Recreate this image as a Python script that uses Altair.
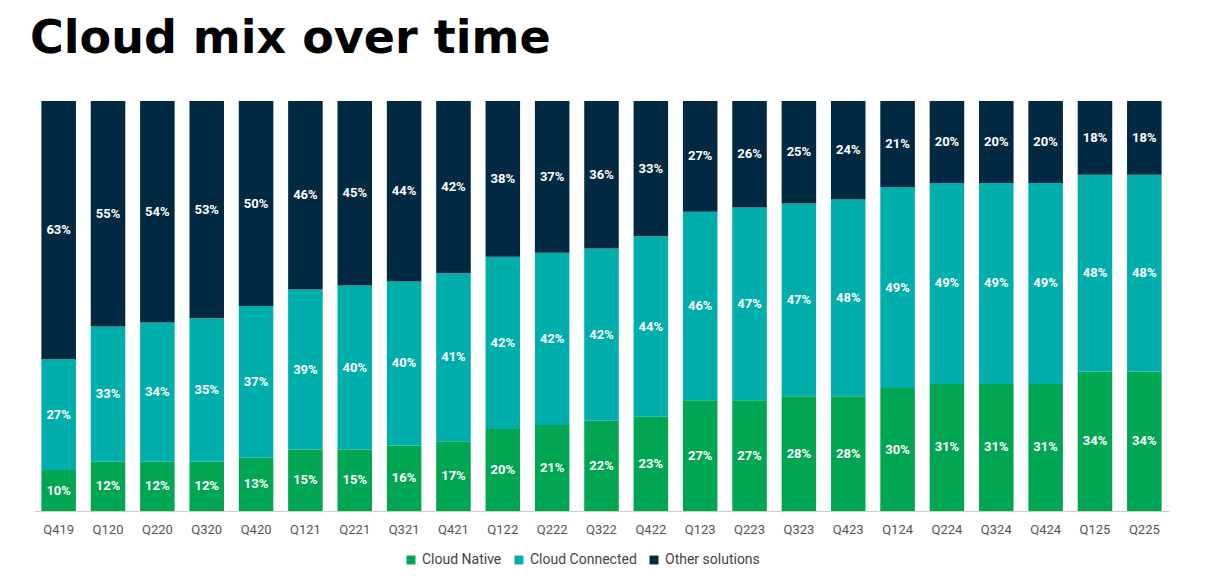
import altair as alt
import pandas as pd

quarters = ["Q419", "Q120", "Q220", "Q320", "Q420", "Q121", "Q221", "Q321", "Q421",
            "Q122", "Q222", "Q322", "Q422", "Q123", "Q223", "Q323", "Q423",
            "Q124", "Q224", "Q324", "Q424", "Q125", "Q225"]
native = [10, 12, 12, 12, 13, 15, 15, 16, 17, 20, 21, 22, 23, 27, 27, 28, 28, 30, 31, 31, 31, 34, 34]
connected = [27, 33, 34, 35, 37, 39, 40, 40, 41, 42, 42, 42, 44, 46, 47, 47, 48, 49, 49, 49, 49, 48, 48]
other = [63, 55, 54, 53, 50, 46, 45, 44, 42, 38, 37, 36, 33, 27, 26, 25, 24, 21, 20, 20, 20, 18, 18]

series = ["Cloud Native", "Cloud Connected", "Other solutions"]
colors = ["#00a651", "#00aeab", "#012a42"]

rows = []
for i, q in enumerate(quarters):
    for k, (name, vals) in enumerate(zip(series, [native, connected, other])):
        rows.append({"quarter": q, "series": name, "value": vals[i], "order": k})
data = pd.DataFrame(rows)

base = alt.Chart(data).transform_stack(
    stack="value", groupby=["quarter"], as_=["y0", "y1"],
    sort=[alt.SortField("order")], offset="normalize"
).transform_calculate(mid="(datum.y0 + datum.y1) / 2")

x = alt.X("quarter:N", sort=quarters, title=None,
          scale=alt.Scale(paddingInner=0.3, paddingOuter=0.15),
          axis=alt.Axis(labelAngle=0, labelColor="#555", labelFontSize=13,
                        labelFont="Roboto", ticks=False, domainColor="#ccc",
                        labelPadding=12))

bars = base.mark_bar().encode(
    x=x,
    y=alt.Y("y0:Q", axis=None, scale=alt.Scale(domain=[0, 1])),
    y2="y1:Q",
    color=alt.Color("series:N", sort=series,
                    scale=alt.Scale(domain=series, range=colors),
                    legend=alt.Legend(orient="none", legendX=370, legendY=452,
                                      direction="horizontal", title=None,
                                      symbolType="square", labelFontSize=14,
                                      labelColor="#444", labelFont="Roboto",
                                      symbolSize=80)),
)

labels = base.mark_text(color="white", fontWeight="bold", fontSize=13,
                        font="Roboto").encode(
    x=alt.X("quarter:N", sort=quarters),
    y=alt.Y("mid:Q"),
    text=alt.Text("label:N"),
).transform_calculate(label="datum.value + '%'")

chart = (bars + labels).properties(
    width=1135, height=410,
    padding={"left": 22, "top": 8, "right": 5, "bottom": 5},
    title=alt.Title("Cloud mix over time", anchor="start", fontSize=46,
                    font="DejaVu Sans", fontWeight="bold", color="#000",
                    offset=38, dx=-4),
).configure_view(stroke=None)

chart.save("out.html", embed_options={"renderer": "svg", "actions": False})
